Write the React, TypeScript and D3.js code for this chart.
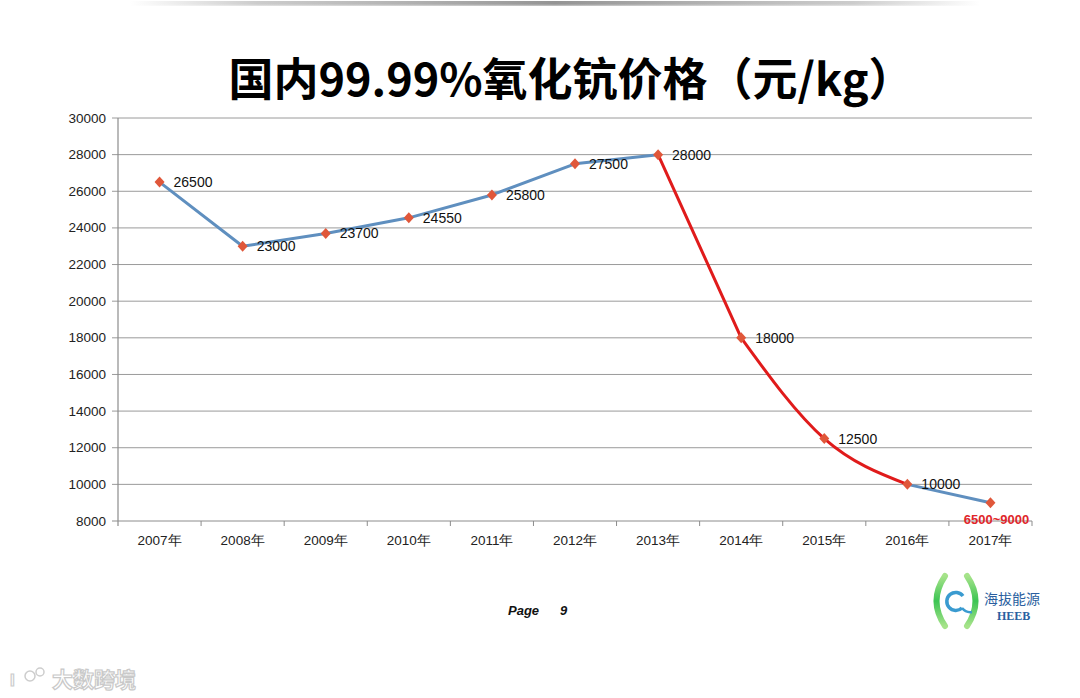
import React from "react";
import * as d3 from "d3";

const years = ["2007年", "2008年", "2009年", "2010年", "2011年", "2012年", "2013年", "2014年", "2015年", "2016年", "2017年"];
const prices = [26500, 23000, 23700, 24550, 25800, 27500, 28000, 18000, 12500, 10000, 9000];
const pointLabels = ["26500", "23000", "23700", "24550", "25800", "27500", "28000", "18000", "12500", "10000", ""];
const yTicks = [8000, 10000, 12000, 14000, 16000, 18000, 20000, 22000, 24000, 26000, 28000, 30000];
const redRange = [6, 9]; // indices 2013..2016
const lastLabel = "6500~9000";
const title = "国内99.99%氧化钪价格（元/kg）";

const W = 1080, H = 698;
const left = 118, right = 1032, top = 118, bottom = 521;

export default function App() {
  const x = d3.scaleBand<string>().domain(years).range([left, right]).padding(0);
  const y = d3.scaleLinear().domain([8000, 30000]).range([bottom, top]);
  const cx = (i: number) => (x(years[i]) as number) + x.bandwidth() / 2;
  const pts: [number, number][] = prices.map((v, i) => [cx(i), y(v)]);
  const blueA = d3.line().curve(d3.curveLinear)(pts.slice(0, redRange[0] + 1)) as string;
  const blueB = d3.line().curve(d3.curveLinear)(pts.slice(redRange[1])) as string;
  const red1 = d3.line().curve(d3.curveLinear)(pts.slice(redRange[0], redRange[0] + 2)) as string;
  const red2 = d3.line().curve(d3.curveNatural)(pts.slice(redRange[0] + 1, redRange[1] + 1)) as string;
  const font = "Arial, 'Liberation Sans', sans-serif";
  const diamond = (px: number, py: number) => `M${px},${py - 5.5}L${px + 5},${py}L${px},${py + 5.5}L${px - 5},${py}Z`;

  return (
    <svg width={W} height={H} style={{ display: "block", position: "absolute", left: 0, top: 0 }}>
      <defs>
        <linearGradient id="topbar" x1="0" x2="1" y1="0" y2="0">
          <stop offset="0" stopColor="#999" stopOpacity="0" />
          <stop offset="0.15" stopColor="#999" stopOpacity="0.5" />
          <stop offset="0.5" stopColor="#888" stopOpacity="0.9" />
          <stop offset="0.85" stopColor="#999" stopOpacity="0.5" />
          <stop offset="1" stopColor="#999" stopOpacity="0" />
        </linearGradient>
        <linearGradient id="topbarV" x1="0" x2="0" y1="0" y2="1">
          <stop offset="0" stopColor="#fff" stopOpacity="0" />
          <stop offset="1" stopColor="#fff" stopOpacity="1" />
        </linearGradient>
        <linearGradient id="greenL" x1="0" x2="0" y1="0" y2="1">
          <stop offset="0" stopColor="#a6e38a" />
          <stop offset="0.5" stopColor="#3cc453" />
          <stop offset="1" stopColor="#a6e38a" />
        </linearGradient>
      </defs>
      <rect x={0} y={0} width={W} height={H} fill="#fff" />
      <rect x={130} y={1} width={850} height={5} fill="url(#topbar)" />
      <rect x={130} y={4} width={850} height={4} fill="url(#topbarV)" />

      <text x={571} y={96} textAnchor="middle" fontFamily="'Noto Sans CJK SC', sans-serif" fontWeight={700} fontSize={45} fill="#000">{title}</text>

      {yTicks.map((t) => (
        <g key={t}>
          <line x1={left - 6} x2={right} y1={y(t)} y2={y(t)} stroke={t === 8000 ? "#8c8c8c" : "#9a9a9a"} strokeWidth={1} />
          <text x={106} y={y(t) + 4.5} textAnchor="end" fontFamily={font} fontSize={13.5} fill="#222">{t}</text>
        </g>
      ))}
      <line x1={left} x2={left} y1={top} y2={bottom + 5} stroke="#8c8c8c" strokeWidth={1.2} />
      {years.map((yr, i) => (
        <g key={yr}>
          <line x1={(x(yr) as number) + x.bandwidth()} x2={(x(yr) as number) + x.bandwidth()} y1={bottom} y2={bottom + 5} stroke="#8c8c8c" />
          <text x={cx(i)} y={545} textAnchor="middle" fontFamily={font} fontSize={13.5} fill="#222">{yr}</text>
        </g>
      ))}

      <path d={blueA} fill="none" stroke="#5f8fbf" strokeWidth={3} strokeLinejoin="round" />
      <path d={blueB} fill="none" stroke="#5f8fbf" strokeWidth={3} strokeLinejoin="round" />
      <path d={red1} fill="none" stroke="#e01b1b" strokeWidth={3} strokeLinecap="round" />
      <path d={red2} fill="none" stroke="#e01b1b" strokeWidth={3} strokeLinecap="round" />
      {pts.map(([px, py], i) => (
        <g key={i}>
          <path d={diamond(px, py)} fill="#e0573a" />
          {pointLabels[i] && (
            <text x={px + 14} y={py + 5} fontFamily={font} fontSize={14} fill="#111">{pointLabels[i]}</text>
          )}
        </g>
      ))}
      <text x={pts[10][0] + 6} y={524} textAnchor="middle" fontFamily={font} fontWeight={700} fontSize={13} fill="#e0262a">{lastLabel}</text>

      <text x={508} y={615} fontFamily={font} fontWeight={700} fontStyle="italic" fontSize={13} fill="#111">Page</text>
      <text x={560} y={615} fontFamily={font} fontWeight={700} fontStyle="italic" fontSize={13} fill="#111">9</text>

      <g>
        <path d="M945,576 Q928,601 945,626" fill="none" stroke="url(#greenL)" strokeWidth={6} strokeLinecap="round" />
        <path d="M967,576 Q984,601 967,626" fill="none" stroke="url(#greenL)" strokeWidth={6} strokeLinecap="round" />
        <path d="M963,596 A9,9 0 1,0 962,608" fill="none" stroke="#3a9bd0" strokeWidth={3.5} />
        <path d="M962,608 Q966,613 972,612" fill="none" stroke="#3a9bd0" strokeWidth={2.5} />
        <text x={984} y={604} fontFamily="'Noto Sans CJK SC', sans-serif" fontSize={14} fill="#2a5fa0">海拔能源</text>
        <text x={997} y={620} fontFamily="'Liberation Serif', serif" fontWeight={700} fontSize={12} fill="#2a5fa0">HEEB</text>
      </g>

      <g opacity={0.9}>
        <text x={10} y={686} fontFamily={font} fontWeight={700} fontSize={17} fill="#fff" stroke="#c8c8c8" strokeWidth={1.2}>I</text>
        <circle cx={30} cy={676} r={5} fill="none" stroke="#c8c8c8" strokeWidth={1.5} />
        <circle cx={40} cy={672} r={4} fill="none" stroke="#c8c8c8" strokeWidth={1.5} />
        <text x={52} y={687} fontFamily="'Noto Sans CJK SC', sans-serif" fontWeight={700} fontSize={21} fill="#fff" stroke="#c4c4c4" strokeWidth={1.2}>大数跨境</text>
      </g>
    </svg>
  );
}
